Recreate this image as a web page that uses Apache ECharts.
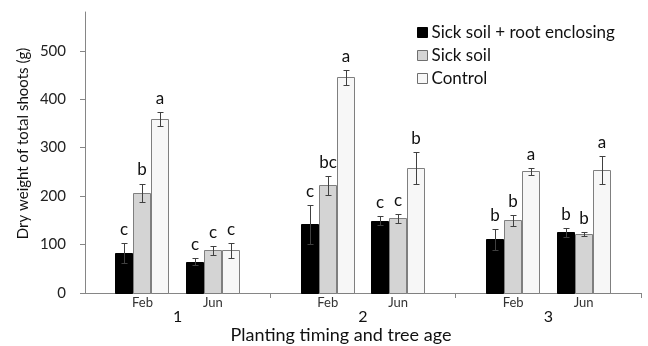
<!DOCTYPE html>
<html>
<head>
<meta charset="utf-8">
<script src="https://cdn.jsdelivr.net/npm/echarts@6/dist/echarts.min.js"></script>
<style>
  html, body { margin: 0; padding: 0; background: #fff; }
  #chart { width: 648px; height: 346px; }
</style>
</head>
<body>
<div id="chart"></div>
<script>
// Tree age groups and planting months within each group
const groups = ['1', '2', '3'];
const months = ['Feb', 'Jun'];

// Treatment names
const treatments = ['Sick soil + root enclosing', 'Sick soil', 'Control'];

// Mean dry weight (g), ordered: age1 Feb, age1 Jun, age2 Feb, age2 Jun, age3 Feb, age3 Jun
const enclosingMean = [83, 65, 142, 149, 111, 125];
const sickMean      = [207, 88, 222, 154, 150, 121];
const controlMean   = [359, 88, 445, 258, 251, 253];

// Standard errors
const enclosingErr = [21, 8, 40, 9, 22, 9];
const sickErr      = [19, 9, 20, 10, 11, 4];
const controlErr   = [14, 16, 16, 34, 8, 29];

// Significance letters
const enclosingSig = ['c', 'c', 'c', 'c', 'b', 'b'];
const sickSig      = ['b', 'c', 'bc', 'c', 'b', 'b'];
const controlSig   = ['a', 'c', 'a', 'b', 'a', 'a'];

// Y axis tick values
const yTicks = [0, 100, 200, 300, 400, 500];

const FONT = 'Lato';
const BAR_W = 18;
const monthOffset = [0.31, 0.69];   // month cluster centres inside a group (axis units)

// x position of each month cluster on the 0..3 value axis
const slotX = [];
groups.forEach((g, gi) => months.forEach((m, mi) => slotX.push(gi + monthOffset[mi])));

const means = [enclosingMean, sickMean, controlMean];
const errs = [enclosingErr, sickErr, controlErr];
const sigs = [enclosingSig, sickSig, controlSig];
const fills = ['#000000', '#d4d4d4', '#f7f7f7'];
const borders = ['#000000', '#7f7f7f', '#7f7f7f'];

function makeRender(si) {
  return function (params, api) {
    const x = api.value(0), v = api.value(1), e = api.value(2);
    const top = api.coord([x, v]);
    const base = api.coord([x, 0]);
    const eHi = api.coord([x, v + e]);
    const eLo = api.coord([x, v - e]);
    const cx = Math.round(top[0] + (si - 1) * BAR_W);
    const left = cx - BAR_W / 2;
    const ex = cx + 0.5;
    return {
      type: 'group',
      children: [
        {
          type: 'rect',
          shape: { x: left + 0.5, y: Math.round(top[1]) + 0.5, width: BAR_W - 1, height: Math.round(base[1]) - Math.round(top[1]) },
          style: { fill: fills[si], stroke: borders[si], lineWidth: 1 }
        },
        {
          type: 'line',
          shape: { x1: ex, y1: Math.round(eHi[1]) + 0.5, x2: ex, y2: Math.round(eLo[1]) + 0.5 },
          style: { stroke: '#404040', lineWidth: 1 }
        },
        {
          type: 'line',
          shape: { x1: ex - 3, y1: Math.round(eHi[1]) + 0.5, x2: ex + 3, y2: Math.round(eHi[1]) + 0.5 },
          style: { stroke: '#404040', lineWidth: 1 }
        },
        {
          type: 'line',
          shape: { x1: ex - 3, y1: Math.round(eLo[1]) + 0.5, x2: ex + 3, y2: Math.round(eLo[1]) + 0.5 },
          style: { stroke: '#404040', lineWidth: 1 }
        },
        {
          type: 'text',
          x: cx, y: eHi[1] - 5,
          style: {
            text: sigs[si][params.dataIndex],
            fill: '#111', font: '17px ' + FONT,
            align: 'center', verticalAlign: 'bottom'
          }
        }
      ]
    };
  };
}

const series = treatments.map((name, si) => ({
  name: name,
  type: 'custom',
  xAxisIndex: 0,
  yAxisIndex: 0,
  itemStyle: { color: fills[si], borderColor: borders[si], borderWidth: 1 },
  renderItem: makeRender(si),
  encode: { x: 0, y: 1 },
  data: slotX.map((x, i) => [x, means[si][i], errs[si][i]]),
  clip: false
}));

const chart = echarts.init(document.getElementById('chart'), null, { renderer: 'canvas' });
chart.setOption({
  animation: false,
  backgroundColor: '#ffffff',
  textStyle: { fontFamily: FONT },
  grid: { left: 85, right: 7, top: 12, bottom: 53, containLabel: false, outerBoundsMode: 'none' },
  legend: {
    orient: 'vertical',
    left: 412, top: 19,
    icon: 'rect',
    itemWidth: 10, itemHeight: 10,
    itemGap: 6,
    selectedMode: false,
    textStyle: { fontFamily: FONT, fontSize: 17, color: '#111', padding: [0, 0, 0, -1] },
    data: treatments.map((n, si) => ({
      name: n,
      itemStyle: { color: fills[si], borderColor: si === 0 ? '#000' : '#6f6f6f', borderWidth: 1 }
    }))
  },
  xAxis: [
    {
      type: 'value', min: 0, max: 3,
      axisLine: { show: true, onZero: false, lineStyle: { color: '#868686', width: 1 } },
      splitLine: { show: false },
      axisTick: { show: true, inside: false, length: 5, customValues: [1, 2, 3], lineStyle: { color: '#868686' } },
      axisLabel: {
        customValues: slotX,
        formatter: (val) => {
          const i = slotX.findIndex(s => Math.abs(s - val) < 1e-6);
          return i >= 0 ? months[i % months.length] : '';
        },
        fontFamily: FONT, fontSize: 13, color: '#333', margin: 3
      }
    },
    {
      type: 'value', min: 0, max: 3, position: 'bottom',
      axisLine: { show: false }, axisTick: { show: false }, splitLine: { show: false },
      axisLabel: {
        customValues: [0.5, 1.5, 2.5],
        formatter: (val) => groups[Math.floor(val)],
        fontFamily: FONT, fontSize: 16, color: '#111', margin: 16
      },
      name: 'Planting timing and tree age',
      nameLocation: 'middle',
      nameGap: 33,
      nameMoveOverlap: false,
      nameTextStyle: { fontFamily: FONT, fontSize: 18, color: '#111', padding: [0, 44, 0, 0] }
    }
  ],
  yAxis: {
    type: 'value', min: 0, max: 580,
    axisLine: { show: true, lineStyle: { color: '#868686', width: 1 } },
    splitLine: { show: false },
    axisTick: { show: true, length: 5, customValues: yTicks, lineStyle: { color: '#868686' } },
    axisLabel: { customValues: yTicks, fontFamily: FONT, fontSize: 15, color: '#222', margin: 19 },
    name: 'Dry weight of total shoots (g)',
    nameLocation: 'middle',
    nameGap: 54,
    nameMoveOverlap: false,
    nameTextStyle: { fontFamily: FONT, fontSize: 15, color: '#111', padding: [0, 0, 0, 18] }
  },
  series: series
});
</script>
</body>
</html>
